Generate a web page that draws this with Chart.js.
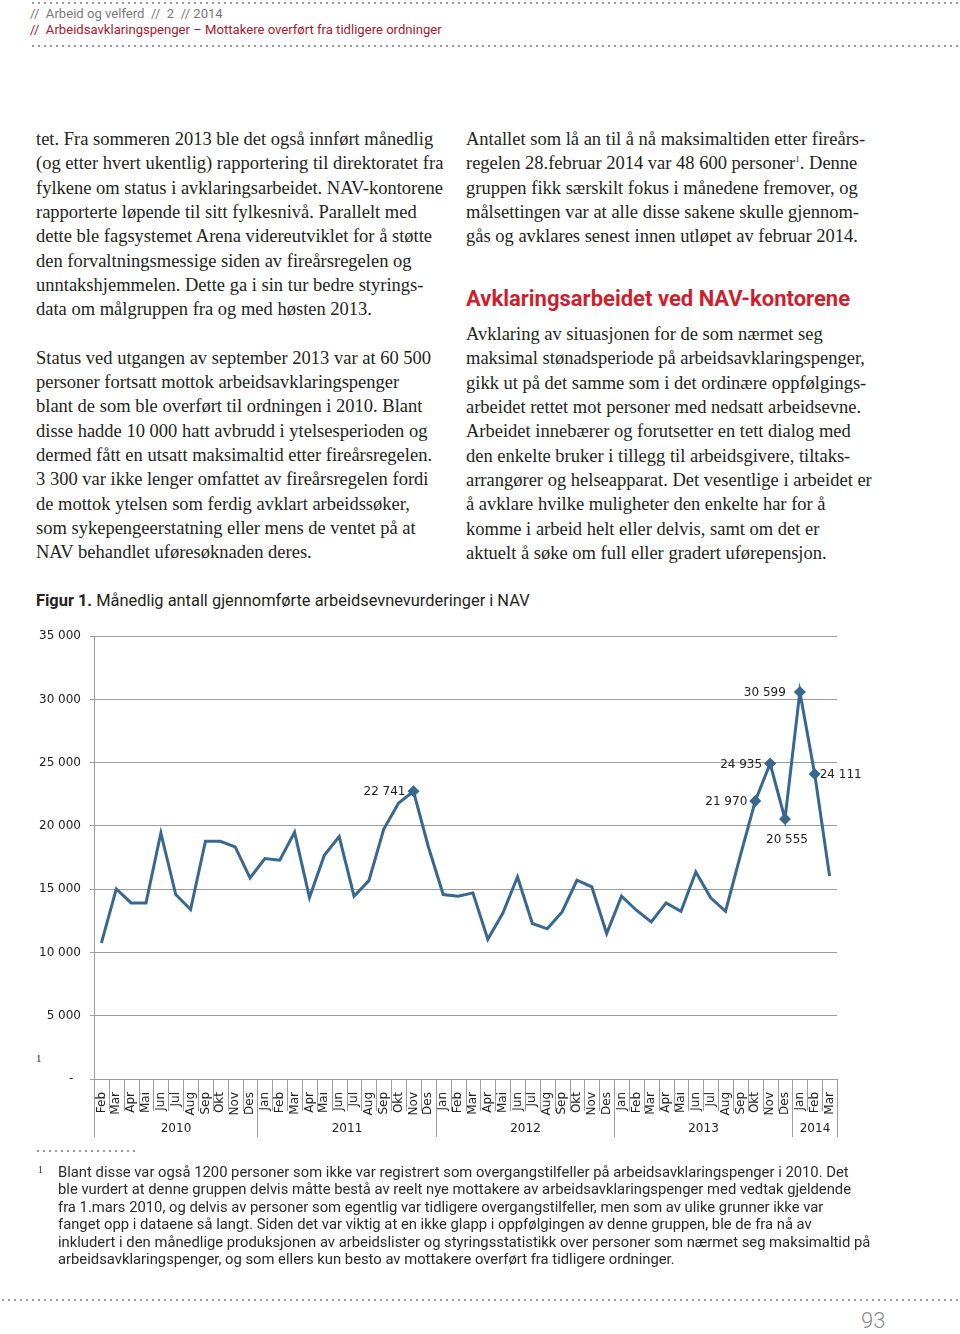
<!DOCTYPE html>
<html lang="no">
<head>
<meta charset="utf-8">
<title>Arbeidsavklaringspenger – Figur 1</title>
<script src="https://cdn.jsdelivr.net/npm/chart.js@4.4.1/dist/chart.umd.min.js"></script>
<style>
  html, body { margin: 0; padding: 0; background: #fff; }
  body { width: 960px; height: 1334px; position: relative; overflow: hidden; color: #231f20; }
  .dots { position: absolute; height: 4px;
    background: radial-gradient(circle, #9a9a9a 1px, transparent 1.3px) 0 0 / 6px 4px repeat-x; }
  .hdr { position: absolute; left: 30px; font: 13.1px Roboto, sans-serif; white-space: nowrap; }
  .col { position: absolute; font: 18.5px "Liberation Serif", "Times New Roman", serif; line-height: 24.32px; white-space: nowrap; }
  .col div { height: 24.32px; }
  .col sup { font-size: 9px; vertical-align: 7px; line-height: 0; }
  h2 { position: absolute; left: 466px; top: 286px; margin: 0; font: 700 22px Roboto, sans-serif; color: #cc1f2f; white-space: nowrap; }
  .fig { position: absolute; left: 36px; top: 591px; font: 16.4px Roboto, sans-serif; white-space: nowrap; }
  .fig b { font-weight: 700; }
  #wrap { position: absolute; left: 30px; top: 620px; width: 840px; height: 525px; }
  .note { position: absolute; left: 58px; top: 1164px; font: 14.8px Roboto, sans-serif; line-height: 17.4px; white-space: nowrap; color: #2a2a2a; }
  .mark { position: absolute; font: 11px "Liberation Serif", serif; }
  .page { position: absolute; left: 861px; top: 1308px; font: 300 22px Roboto, sans-serif; color: #8a8a8a; }
</style>
</head>
<body>
<div class="dots" style="left:30px; top:1px; width:930px"></div>
<div class="hdr" style="top:6px; color:#7a7a7a">//&nbsp; Arbeid og velferd &nbsp;//&nbsp; 2 &nbsp;// 2014</div>
<div class="hdr" style="top:22px; color:#a8182e">//&nbsp; Arbeidsavklaringspenger – Mottakere overført fra tidligere ordninger</div>
<div class="dots" style="left:30px; top:44px; width:930px"></div>

<div class="col" style="left:36px; top:127px">
  <div>tet. Fra sommeren 2013 ble det også innført månedlig</div>
  <div>(og etter hvert ukentlig) rapportering til direktoratet fra</div>
  <div>fylkene om status i avklaringsarbeidet. NAV-kontorene</div>
  <div>rapporterte løpende til sitt fylkesnivå. Parallelt med</div>
  <div>dette ble fagsystemet Arena videreutviklet for å støtte</div>
  <div>den forvaltningsmessige siden av fireårsregelen og</div>
  <div>unntakshjemmelen. Dette ga i sin tur bedre styrings-</div>
  <div>data om målgruppen fra og med høsten 2013.</div>
  <div></div>
  <div>Status ved utgangen av september 2013 var at 60 500</div>
  <div>personer fortsatt mottok arbeidsavklaringspenger</div>
  <div>blant de som ble overført til ordningen i 2010. Blant</div>
  <div>disse hadde 10 000 hatt avbrudd i ytelsesperioden og</div>
  <div>dermed fått en utsatt maksimaltid etter fireårsregelen.</div>
  <div>3 300 var ikke lenger omfattet av fireårsregelen fordi</div>
  <div>de mottok ytelsen som ferdig avklart arbeidssøker,</div>
  <div>som sykepengeerstatning eller mens de ventet på at</div>
  <div>NAV behandlet uføresøknaden deres.</div>
</div>

<div class="col" style="left:466px; top:127px">
  <div>Antallet som lå an til å nå maksimaltiden etter fireårs-</div>
  <div>regelen 28.februar 2014 var 48 600 personer<sup>1</sup>. Denne</div>
  <div>gruppen fikk særskilt fokus i månedene fremover, og</div>
  <div>målsettingen var at alle disse sakene skulle gjennom-</div>
  <div>gås og avklares senest innen utløpet av februar 2014.</div>
</div>
<h2>Avklaringsarbeidet ved NAV-kontorene</h2>
<div class="col" style="left:466px; top:322px">
  <div>Avklaring av situasjonen for de som nærmet seg</div>
  <div>maksimal stønadsperiode på arbeidsavklaringspenger,</div>
  <div>gikk ut på det samme som i det ordinære oppfølgings-</div>
  <div>arbeidet rettet mot personer med nedsatt arbeidsevne.</div>
  <div>Arbeidet innebærer og forutsetter en tett dialog med</div>
  <div>den enkelte bruker i tillegg til arbeidsgivere, tiltaks-</div>
  <div>arrangører og helseapparat. Det vesentlige i arbeidet er</div>
  <div>å avklare hvilke muligheter den enkelte har for å</div>
  <div>komme i arbeid helt eller delvis, samt om det er</div>
  <div>aktuelt å søke om full eller gradert uførepensjon.</div>
</div>

<div class="fig"><b>Figur 1.</b> Månedlig antall gjennomførte arbeidsevnevurderinger i NAV</div>

<div id="wrap"><canvas id="chart" width="840" height="525"></canvas></div>

<div class="mark" style="left:36px; top:1052px">1</div>
<div class="dots" style="left:35px; top:1149px; width:100px"></div>
<div class="mark" style="left:38px; top:1164px; font-size:10px">1</div>
<div class="note">
  Blant disse var også 1200 personer som ikke var registrert som overgangstilfeller på arbeidsavklaringspenger i 2010. Det<br>
  ble vurdert at denne gruppen delvis måtte bestå av reelt nye mottakere av arbeidsavklaringspenger med vedtak gjeldende<br>
  fra 1.mars 2010, og delvis av personer som egentlig var tidligere overgangstilfeller, men som av ulike grunner ikke var<br>
  fanget opp i dataene så langt. Siden det var viktig at en ikke glapp i oppfølgingen av denne gruppen, ble de fra nå av<br>
  inkludert i den månedlige produksjonen av arbeidslister og styringsstatistikk over personer som nærmet seg maksimaltid på<br>
  arbeidsavklaringspenger, og som ellers kun besto av mottakere overført fra tidligere ordninger.
</div>
<div class="dots" style="left:0; top:1298px; width:960px"></div>
<div class="page">93</div>

<script>
const MONTHS = [
  "Feb", "Mar", "Apr", "Mai", "Jun", "Jul", "Aug", "Sep", "Okt", "Nov", "Des",
  "Jan", "Feb", "Mar", "Apr", "Mai", "Jun", "Jul", "Aug", "Sep", "Okt", "Nov", "Des",
  "Jan", "Feb", "Mar", "Apr", "Mai", "Jun", "Jul", "Aug", "Sep", "Okt", "Nov", "Des",
  "Jan", "Feb", "Mar", "Apr", "Mai", "Jun", "Jul", "Aug", "Sep", "Okt", "Nov", "Des",
  "Jan", "Feb", "Mar"
];
const YEARS = ["2010", "2011", "2012", "2013", "2014"];
const MONTHS_PER_YEAR = [11, 12, 12, 12, 3];

const VALUES = [
  10760, 15020, 13920, 13920, 19450, 14580, 13400, 18790, 18790, 18340, 15890,
  17420, 17290, 19500, 14340, 17680, 19160, 14450, 15680, 19760, 21810, 22741, 18360,
  14580, 14450, 14710, 11050, 13080, 15970, 12290, 11870, 13210, 15710, 15180, 11500,
  14450, 13340, 12420, 13920, 13260, 16370, 14320, 13260, 17680, 21970, 24935, 20555,
  30599, 24111, 16040
];
// punkter som har markør og verdietikett
const LABELLED = [21, 44, 45, 46, 47, 48];

const Y_TICKS = [0, 5000, 10000, 15000, 20000, 25000, 30000, 35000];

const LINE = "#386890";
const GRID = "#9c9c9c";
const FONT = "'DejaVu Sans', Verdana, sans-serif";

function fmt(v) {
  return String(v).replace(/\B(?=(\d{3})+(?!\d))/g, " ");
}

// hvor etiketten står i forhold til punktet
const LABEL_PLACE = { 21: "left", 44: "left", 45: "left", 46: "below", 47: "leftFar", 48: "right" };

const valueLabels = {
  id: "valueLabels",
  afterDatasetsDraw(chart) {
    const ctx = chart.ctx;
    const pts = chart.getDatasetMeta(0).data;
    ctx.save();
    ctx.font = "12px " + FONT;
    ctx.fillStyle = "#222";
    ctx.textBaseline = "middle";
    LABELLED.forEach((i) => {
      const p = pts[i];
      const txt = fmt(VALUES[i]);
      const place = LABEL_PLACE[i];
      if (place === "below") {
        ctx.textAlign = "center";
        ctx.fillText(txt, p.x + 2, p.y + 21);
      } else if (place === "right") {
        ctx.textAlign = "left";
        ctx.fillText(txt, p.x + 5, p.y + 1);
      } else {
        ctx.textAlign = "right";
        ctx.fillText(txt, p.x - (place === "leftFar" ? 14 : 8), p.y + 1);
      }
    });
    ctx.restore();
  }
};

// måneds- og årsinndeling under x-aksen
const groupAxis = {
  id: "groupAxis",
  afterDraw(chart) {
    const ctx = chart.ctx;
    const x = chart.scales.x;
    const base = chart.chartArea.bottom;
    const half = (x.getPixelForValue(1) - x.getPixelForValue(0)) / 2;
    const edge = (i) => Math.round(x.getPixelForValue(i) - half) + 0.5;

    ctx.save();
    ctx.strokeStyle = GRID;
    ctx.lineWidth = 1;
    ctx.beginPath();
    for (let i = 0; i <= MONTHS.length; i++) {
      ctx.moveTo(edge(i), base);
      ctx.lineTo(edge(i), base + 32);
    }
    let start = 0;
    const bounds = [0];
    MONTHS_PER_YEAR.forEach((n) => { start += n; bounds.push(start); });
    bounds.forEach((b) => {
      ctx.moveTo(edge(b), base);
      ctx.lineTo(edge(b), base + 58);
    });
    ctx.stroke();

    ctx.font = "12px " + FONT;
    ctx.fillStyle = "#222";
    ctx.textAlign = "center";
    ctx.textBaseline = "middle";
    YEARS.forEach((yr, k) => {
      const mid = (edge(bounds[k]) + edge(bounds[k + 1])) / 2;
      ctx.fillText(yr, mid, base + 50);
    });
    ctx.restore();
  }
};

new Chart(document.getElementById("chart"), {
  type: "line",
  data: {
    labels: MONTHS,
    datasets: [{
      data: VALUES,
      borderColor: LINE,
      backgroundColor: LINE,
      borderWidth: 3,
      tension: 0,
      pointStyle: "rectRot",
      pointRadius: VALUES.map((_, i) => (LABELLED.includes(i) ? 6 : 0)),
      pointHoverRadius: 0,
      pointBorderWidth: 0
    }]
  },
  options: {
    responsive: false,
    animation: false,
    devicePixelRatio: 1,
    layout: { padding: { top: 15, right: 33, left: 0, bottom: 0 } },
    plugins: { legend: { display: false }, tooltip: { enabled: false } },
    scales: {
      y: {
        min: 0,
        max: 35000,
        afterBuildTicks: (s) => { s.ticks = Y_TICKS.map((v) => ({ value: v })); },
        afterFit: (s) => { s.width = 64; },
        ticks: {
          color: "#222",
          font: { family: FONT, size: 12 },
          padding: 9,
          callback: (v) => (v === 0 ? "-  " : fmt(v))
        },
        grid: { color: GRID, lineWidth: 1, tickLength: 4 },
        border: { color: GRID }
      },
      x: {
        offset: true,
        afterFit: (s) => { s.height = 66; },
        ticks: {
          autoSkip: false,
          minRotation: 90,
          maxRotation: 90,
          color: "#222",
          font: { family: FONT, size: 12 },
          padding: 5
        },
        grid: { display: false, offset: true },
        border: { display: true, color: GRID }
      }
    }
  },
  plugins: [valueLabels, groupAxis]
});
</script>
</body>
</html>
